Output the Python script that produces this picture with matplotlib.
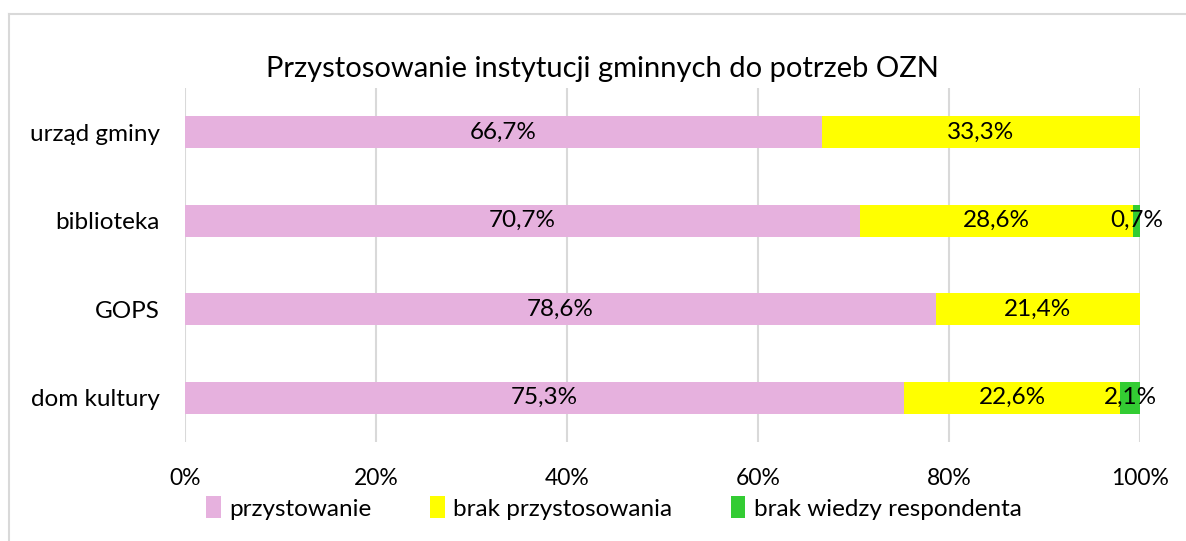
import matplotlib.pyplot as plt
from matplotlib.lines import Line2D
import numpy as np

plt.rcParams['font.family'] = ['Lato', 'DejaVu Sans']

categories = ["urząd gminy", "biblioteka", "GOPS", "dom kultury"]
przystosowanie = [66.7, 70.7, 78.6, 75.3]
brak_przystosowania = [33.3, 28.6, 21.4, 22.6]
brak_wiedzy = [0.0, 0.7, 0.0, 2.1]
series_names = ["przystowanie", "brak przystosowania", "brak wiedzy respondenta"]
colors = ["#E6B1DE", "#FFFF00", "#33CC33"]
xticks = [0, 20, 40, 60, 80, 100]
xtick_labels = ["0%", "20%", "40%", "60%", "80%", "100%"]

fig = plt.figure(figsize=(11.86, 5.41), dpi=100)
ax = fig.add_axes([185 / 1186, 1 - 442 / 541, (1140 - 185) / 1186, (442 - 88) / 541])

y = np.arange(len(categories))
left = np.zeros(len(categories))
bar_h = 0.36
for vals, name, col in zip([przystosowanie, brak_przystosowania, brak_wiedzy], series_names, colors):
    vals = np.array(vals)
    ax.barh(y, vals, left=left, height=bar_h, color=col, label=name, zorder=2)
    for yi, (l, v) in enumerate(zip(left, vals)):
        if v > 0:
            ax.text(l + v / 2, yi, f"{v:.1f}%".replace(".", ","), ha="center", va="center",
                    fontsize=17.5, color="#000000", zorder=3)
    left = left + vals

ax.set_xlim(0, 100)
ax.set_ylim(len(categories) - 0.5, -0.5)
ax.set_yticks(y)
ax.set_yticklabels(categories, fontsize=17.5)
ax.set_xticks(xticks)
ax.set_xticklabels(xtick_labels, fontsize=16.5)
ax.tick_params(axis="both", length=0)
ax.tick_params(axis="x", pad=19)
ax.tick_params(axis="y", pad=18)
ax.grid(axis="x", color="#D9D9D9", linewidth=1.5, zorder=0)
ax.set_axisbelow(True)
for s in ax.spines.values():
    s.set_visible(False)

fig.text(602 / 1186, 1 - 69 / 541, "Przystosowanie instytucji gminnych do potrzeb OZN",
         ha="center", va="center", fontsize=21)

leg = fig.legend(loc="center", bbox_to_anchor=(614 / 1186, 1 - 508 / 541), ncol=3, frameon=False,
                 fontsize=17.5, handlelength=0.6, handleheight=1.0, handletextpad=0.35,
                 columnspacing=2.4)

# chart area frame (top and left edges)
fig.add_artist(Line2D([8.5 / 1186, 1.0], [1 - 13.5 / 541, 1 - 13.5 / 541],
                      transform=fig.transFigure, color="#D9D9D9", linewidth=1.5))
fig.add_artist(Line2D([8.5 / 1186, 8.5 / 1186], [0, 1 - 13.5 / 541],
                      transform=fig.transFigure, color="#D9D9D9", linewidth=1.5))

fig.savefig("out.png", dpi=100, facecolor="white")
